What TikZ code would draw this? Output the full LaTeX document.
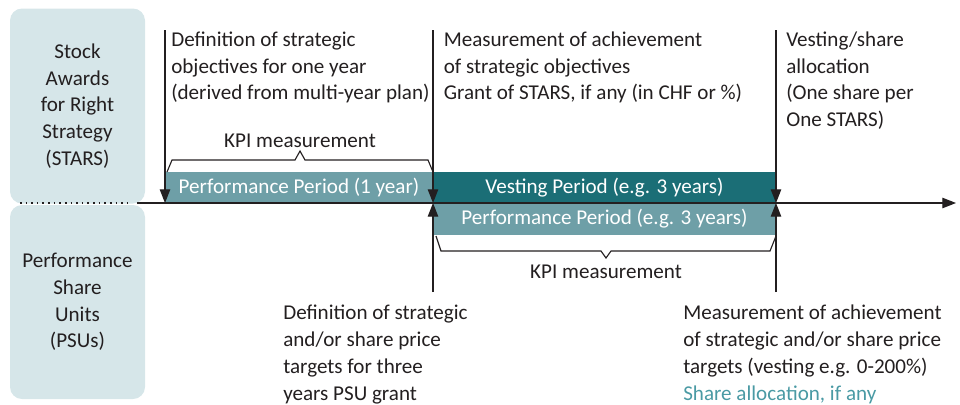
\documentclass[tikz,border=0pt]{standalone}
\usepackage{fontspec}
\setmainfont{Carlito}
\usetikzlibrary{arrows.meta}

\definecolor{sidebg}{HTML}{D6E6E9}
\definecolor{perfbar}{HTML}{6E9FA7}
\definecolor{vestbar}{HTML}{1B6E76}
\definecolor{tealtext}{HTML}{4A9AA4}
\definecolor{ink}{HTML}{231F20}

\begin{document}
\begin{tikzpicture}[scale=0.25,
  txt/.style={font=\fontsize{15}{19}\selectfont, text=ink, align=left, anchor=north west, inner sep=0pt},
  side/.style={fill=sidebg, rounded corners=3mm, minimum width=3.375cm, align=center, inner sep=0pt,
    font=\fontsize{15}{19}\selectfont, text=ink},
  bar/.style={minimum height=0.78cm, inner sep=0pt, text=white, font=\fontsize{15}{19}\selectfont},
  tick/.style={ink, line width=0.8pt, -{Triangle[width=2.6mm,length=3.4mm]}},
  brace/.style={ink, line width=0.8pt}]
\useasboundingbox (0,0) rectangle (96,-40.4);

% row labels
\node[side, minimum height=4.875cm] (stars) at (7.75,-10.6) {Stock\\Awards\\for Right\\Strategy\\(STARS)};
\node[side, minimum height=4.85cm] (psus) at (7.75,-30.2) {Performance\\Share\\Units\\(PSUs)};

% periods
\node[bar, fill=perfbar, minimum width=6.7cm] (perf1) at (29.9,-18.75) {Performance Period (1 year)};
\node[bar, fill=vestbar, minimum width=8.575cm] (vesting) at (60.45,-18.75) {Vesting Period (e.g. 3 years)};
\node[bar, fill=perfbar, minimum width=8.575cm, minimum height=0.8cm] (perf3) at (60.45,-21.9) {Performance Period (e.g. 3 years)};

% time line
\coordinate (dotL) at (2.0,-20.3);
\coordinate (dotR) at (13.0,-20.3);
\coordinate (axL) at (13.7,-20.3);
\coordinate (axR) at (95.6,-20.3);
\draw[ink, line width=1.1pt, dash pattern=on 1.1pt off 2.9pt] (dotL) -- (dotR);
\draw[ink, line width=0.8pt, -{Triangle[width=2.6mm,length=3.4mm]}] (axL) -- (axR);

% milestones
\coordinate (s1) at (16.5,-3.0);
\coordinate (s1e) at (16.5,-20.3);
\coordinate (s2) at (43.3,-3.0);
\coordinate (s2e) at (43.3,-20.3);
\coordinate (s3) at (77.6,-3.0);
\coordinate (s3e) at (77.6,-20.3);
\coordinate (p1) at (43.3,-29.2);
\coordinate (p1e) at (43.3,-20.3);
\coordinate (p2) at (77.6,-29.2);
\coordinate (p2e) at (77.6,-20.3);
\draw[tick] (s1) -- (s1e);
\draw[tick] (s2) -- (s2e);
\draw[tick] (s3) -- (s3e);
\draw[tick] (p1) -- (p1e);
\draw[tick] (p2) -- (p2e);

% braces
\draw[brace] (16.7,-17.2) -- (17.2,-16.0) -- (29.5,-16.0) -- (30.0,-15.1) -- (30.5,-16.0) -- (42.8,-16.0) -- (43.3,-17.2);
\draw[brace] (43.6,-23.6) -- (44.1,-25.1) -- (60.1,-25.1) -- (60.6,-25.8) -- (61.1,-25.1) -- (77.0,-25.1) -- (77.6,-23.6);
\node[txt, anchor=base] (kpi1) at (30.0,-14.7) {KPI measurement};
\node[txt, anchor=base] (kpi3) at (60.6,-27.8) {KPI measurement};

% milestone texts
\node[txt] (defstars) at (17.1,-3.15) {Definition of strategic\\objectives for one year\\(derived from multi-year plan)};
\node[txt] (measstars) at (44.35,-3.15) {Measurement of achievement\\of strategic objectives\\Grant of STARS, if any (in CHF or \%)};
\node[txt] (vestalloc) at (78.6,-3.15) {Vesting/share\\allocation\\(One share per\\One STARS)};
\node[txt] (defpsus) at (28.3,-30.5) {Definition of strategic\\and/or share price\\targets for three\\years PSU grant};
\node[txt] (measpsus) at (68.3,-30.5) {Measurement of achievement\\of strategic and/or share price\\targets (vesting e.g. 0-200\%)\\\textcolor{tealtext}{Share allocation, if any}};
\end{tikzpicture}
\end{document}
